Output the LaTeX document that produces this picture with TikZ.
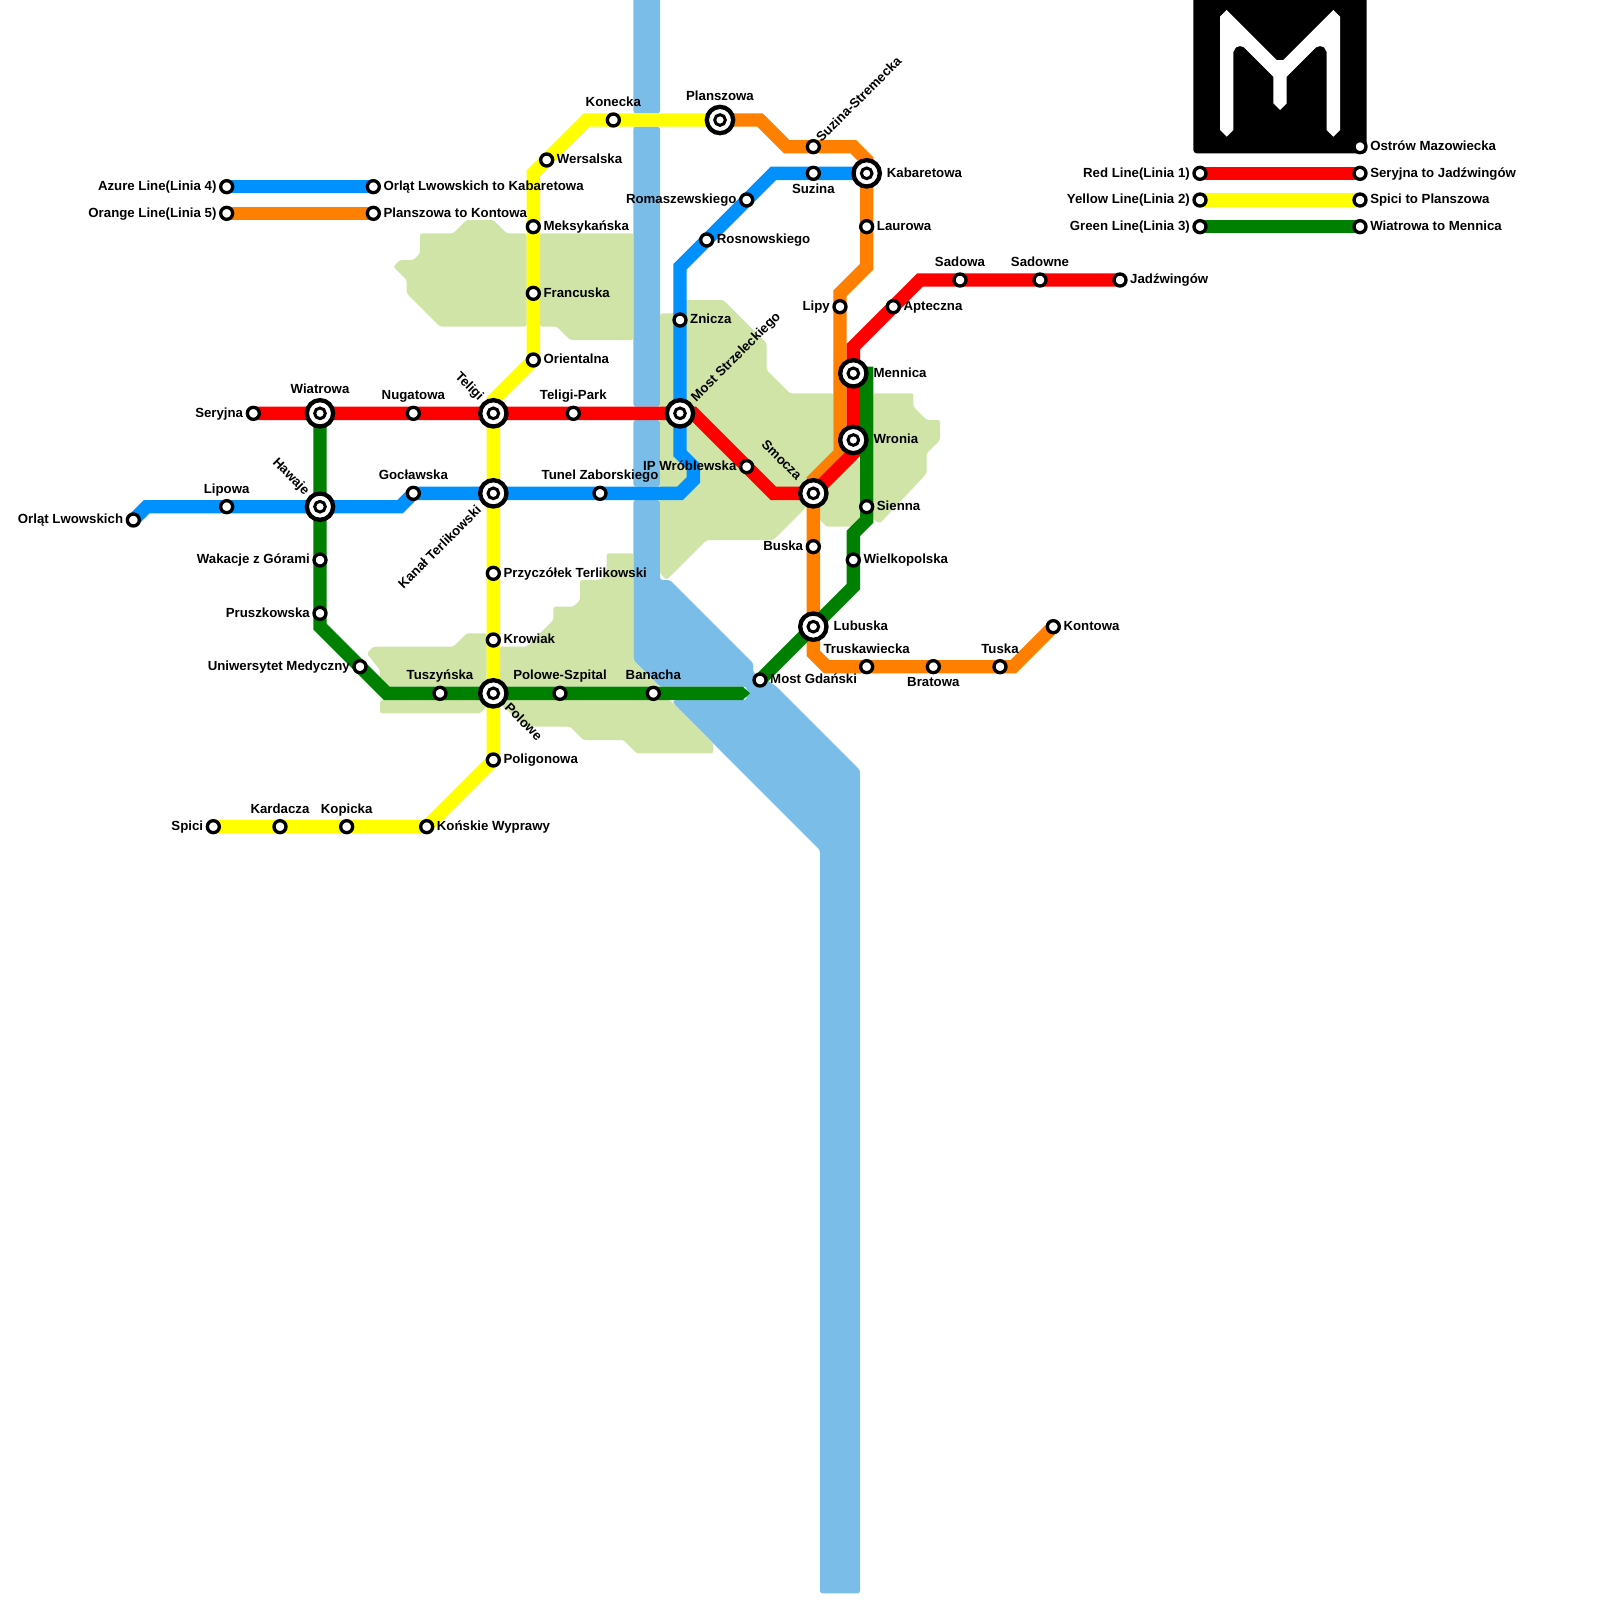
\documentclass[tikz,border=0pt]{standalone}
\usepackage{fontspec}
\setmainfont{Liberation Sans}
\definecolor{LineRed}{RGB}{255,0,0}
\definecolor{LineYellow}{RGB}{255,255,0}
\definecolor{LineGreen}{RGB}{0,128,0}
\definecolor{LineAzure}{RGB}{0,145,255}
\definecolor{LineOrange}{RGB}{255,128,0}
\definecolor{WaterBlue}{RGB}{122,189,232}
\definecolor{ParkGreen}{RGB}{208,228,168}
\usetikzlibrary{positioning, backgrounds}
\tikzset{
  stn/.style={circle, draw=black, fill=white, line width=1mm, inner sep=0pt, minimum size=3.6mm},
  hubcore/.style={circle, draw=black, fill=white, line width=0.9mm, inner sep=0pt, outer sep=0pt, minimum size=3.2mm},
  hub/.style={circle, draw=black, fill=white, line width=1.3mm, inner sep=0pt, minimum size=7.9mm,
    label={[hubcore, label distance=0pt]center:}},
  lbl/.style={inner sep=0pt, yshift=-0.25mm, text height=0.72em, text depth=0.2em, text=black,
    font=\fontsize{11.3}{13}\selectfont\bfseries},
  metro/.style={line width=4mm},
  water/.style={fill=WaterBlue, rounded corners=0.8mm},
  park/.style={fill=ParkGreen, rounded corners=0.7mm}
}

\begin{document}
\begin{tikzpicture}[x=0.4cm, y=-0.4cm]
  \useasboundingbox (0,0) rectangle (120,120);

  \fill[black] (89.5,0) {[rounded corners=1mm] -- (89.5,11.5) -- (102.5,11.5)} -- (102.5,0) -- cycle;
  \fill[white] (92,0.75) -- (95.75,4.5) -- (96.25,4.5) -- (100,0.75) -- (100.5,1.25) -- (100.5,9.75)
    -- (100,10.25) -- (99.5,9.75) -- (99.5,3.9) -- (99.3,3.55) -- (99,3.45) -- (98.7,3.55) -- (96.5,5.75)
    -- (96.5,7.75) -- (96,8.25) -- (95.5,7.75) -- (95.5,5.75) -- (93.3,3.55) -- (93,3.45) -- (92.7,3.55)
    -- (92.5,3.9) -- (92.5,9.75) -- (92,10.25) -- (91.5,9.75) -- (91.5,1.25) -- cycle;

  \node[stn] (seryjna) at (19,31) {}; \node[lbl, left=0.7mm of seryjna] (seryjnaT) {Seryjna};
  \node[hub] (wiatrowa) at (24,31) {}; \node[lbl, above=0.75mm of wiatrowa] (wiatrowaT) {Wiatrowa};
  \node[stn] (nugatowa) at (31,31) {}; \node[lbl, above=1.2mm of nugatowa] (nugatowaT) {Nugatowa};
  \node[hub] (teligi) at (37,31) {}; \node[lbl, rotate=-45, anchor=east] (teligiT) at ([shift={(-0.95,-1.12)}]teligi.center) {Teligi};
  \node[stn] (teligipark) at (43,31) {}; \node[lbl, above=1.2mm of teligipark] (teligiparkT) {Teligi-Park};
  \node[hub] (most) at (51,31) {}; \node[lbl, rotate=45, anchor=west] (mostT) at ([shift={(1.05,-1.05)}]most.center) {Most Strzeleckiego};
  \node[stn] (wroblewska) at (56,35) {}; \node[lbl, left=0.7mm of wroblewska] (wroblewskaT) {IP Wróblewska};
  \node[hub] (smocza) at (61,37) {}; \node[lbl, rotate=-45, anchor=east] (smoczaT) at ([shift={(-1.1,-1.15)}]smocza.center) {Smocza};
  \node[hub] (wronia) at (64,33) {}; \node[lbl, right=1.4mm of wronia] (wroniaT) {Wronia};
  \node[hub] (mennica) at (64,28) {}; \node[lbl, right=1.4mm of mennica] (mennicaT) {Mennica};
  \node[stn] (apteczna) at (67,23) {}; \node[lbl, right=0.7mm of apteczna] (aptecznaT) {Apteczna};
  \node[stn] (sadowa) at (72,21) {}; \node[lbl, above=1.2mm of sadowa] (sadowaT) {Sadowa};
  \node[stn] (sadowne) at (78,21) {}; \node[lbl, above=1.2mm of sadowne] (sadowneT) {Sadowne};
  \node[stn] (jadzwingow) at (84,21) {}; \node[lbl, right=0.7mm of jadzwingow] (jadzwingowT) {Jadźwingów};

  \node[stn] (spici) at (16,62) {}; \node[lbl, left=0.7mm of spici] (spiciT) {Spici};
  \node[stn] (kardacza) at (21,62) {}; \node[lbl, above=1.2mm of kardacza] (kardaczaT) {Kardacza};
  \node[stn] (kopicka) at (26,62) {}; \node[lbl, above=1.2mm of kopicka] (kopickaT) {Kopicka};
  \node[stn] (konskie) at (32,62) {}; \node[lbl, right=0.7mm of konskie] (konskieT) {Końskie Wyprawy};
  \node[stn] (poligonowa) at (37,57) {}; \node[lbl, right=0.7mm of poligonowa] (poligonowaT) {Poligonowa};
  \node[hub] (polowe) at (37,52) {}; \node[lbl, rotate=-45, anchor=west] (poloweT) at ([shift={(0.95,0.9)}]polowe.center) {Polowe};
  \node[stn] (krowiak) at (37,48) {}; \node[lbl, right=0.7mm of krowiak] (krowiakT) {Krowiak};
  \node[stn] (przyczolek) at (37,43) {}; \node[lbl, right=0.7mm of przyczolek] (przyczolekT) {Przyczółek Terlikowski};
  \node[hub] (kanal) at (37,37) {}; \node[lbl, rotate=45, anchor=east] (kanalT) at ([shift={(-1,1.1)}]kanal.center) {Kanał Terlikowski};
  \node[stn] (orientalna) at (40,27) {}; \node[lbl, right=0.7mm of orientalna] (orientalnaT) {Orientalna};
  \node[stn] (francuska) at (40,22) {}; \node[lbl, right=0.7mm of francuska] (francuskaT) {Francuska};
  \node[stn] (meksykanska) at (40,17) {}; \node[lbl, right=0.7mm of meksykanska] (meksykanskaT) {Meksykańska};
  \node[stn] (wersalska) at (41,12) {}; \node[lbl, right=0.7mm of wersalska] (wersalskaT) {Wersalska};
  \node[stn] (konecka) at (46,9) {}; \node[lbl, above=1.2mm of konecka] (koneckaT) {Konecka};
  \node[hub] (planszowa) at (54,9) {}; \node[lbl, above=0.75mm of planszowa] (planszowaT) {Planszowa};

  \node[hub] (hawaje) at (24,38) {}; \node[lbl, rotate=-45, anchor=east] (hawajeT) at ([shift={(-1,-1.05)}]hawaje.center) {Hawaje};
  \node[stn] (wakacje) at (24,42) {}; \node[lbl, left=0.7mm of wakacje] (wakacjeT) {Wakacje z Górami};
  \node[stn] (pruszkowska) at (24,46) {}; \node[lbl, left=0.7mm of pruszkowska] (pruszkowskaT) {Pruszkowska};
  \node[stn] (uniwersytet) at (27,50) {}; \node[lbl, left=0.7mm of uniwersytet] (uniwersytetT) {Uniwersytet Medyczny};
  \node[stn] (tuszynska) at (33,52) {}; \node[lbl, above=1.2mm of tuszynska] (tuszynskaT) {Tuszyńska};
  \node[stn] (szpital) at (42,52) {}; \node[lbl, above=1.2mm of szpital] (szpitalT) {Polowe-Szpital};
  \node[stn] (banacha) at (49,52) {}; \node[lbl, above=1.2mm of banacha] (banachaT) {Banacha};
  \node[stn] (gdanski) at (57,51) {}; \node[lbl, right=0.7mm of gdanski] (gdanskiT) {Most Gdański};
  \node[hub] (lubuska) at (61,47) {}; \node[lbl, right=1.4mm of lubuska] (lubuskaT) {Lubuska};
  \node[stn] (wielkopolska) at (64,42) {}; \node[lbl, right=0.7mm of wielkopolska] (wielkopolskaT) {Wielkopolska};
  \node[stn] (sienna) at (65,38) {}; \node[lbl, right=0.7mm of sienna] (siennaT) {Sienna};

  \node[stn] (orlat) at (10,39) {}; \node[lbl, left=0.7mm of orlat] (orlatT) {Orląt Lwowskich};
  \node[stn] (lipowa) at (17,38) {}; \node[lbl, above=1.2mm of lipowa] (lipowaT) {Lipowa};
  \node[stn] (goclawska) at (31,37) {}; \node[lbl, above=1.2mm of goclawska] (goclawskaT) {Gocławska};
  \node[stn] (tunel) at (45,37) {}; \node[lbl, above=1.2mm of tunel] (tunelT) {Tunel Zaborskiego};
  \node[stn] (znicza) at (51,24) {}; \node[lbl, right=0.7mm of znicza] (zniczaT) {Znicza};
  \node[stn] (rosnowskiego) at (53,18) {}; \node[lbl, right=0.7mm of rosnowskiego] (rosnowskiegoT) {Rosnowskiego};
  \node[stn] (romaszewskiego) at (56,15) {}; \node[lbl, left=0.7mm of romaszewskiego] (romaszewskiegoT) {Romaszewskiego};
  \node[stn] (suzina) at (61,13) {}; \node[lbl, below=0.8mm of suzina] (suzinaT) {Suzina};
  \node[hub] (kabaretowa) at (65,13) {}; \node[lbl, right=1.4mm of kabaretowa] (kabaretowaT) {Kabaretowa};

  \node[stn] (stremecka) at (61,11) {}; \node[lbl, rotate=45, anchor=west] (stremeckaT) at ([shift={(0.45,-0.5)}]stremecka.center) {Suzina-Stremecka};
  \node[stn] (laurowa) at (65,17) {}; \node[lbl, right=0.7mm of laurowa] (laurowaT) {Laurowa};
  \node[stn] (lipy) at (63,23) {}; \node[lbl, left=0.7mm of lipy] (lipyT) {Lipy};
  \node[stn] (buska) at (61,41) {}; \node[lbl, left=0.7mm of buska] (buskaT) {Buska};
  \node[stn] (truskawiecka) at (65,50) {}; \node[lbl, above=1.2mm of truskawiecka] (truskawieckaT) {Truskawiecka};
  \node[stn] (bratowa) at (70,50) {}; \node[lbl, below=0.8mm of bratowa] (bratowaT) {Bratowa};
  \node[stn] (tuska) at (75,50) {}; \node[lbl, above=1.2mm of tuska] (tuskaT) {Tuska};
  \node[stn] (kontowa) at (79,47) {}; \node[lbl, right=0.7mm of kontowa] (kontowaT) {Kontowa};

  \node[stn] (keyAzureA) at (17,14) {}; \node[lbl, left=0.7mm of keyAzureA] (keyAzureT) {Azure Line(Linia 4)};
  \node[stn] (keyAzureB) at (28,14) {}; \node[lbl, right=0.7mm of keyAzureB] (keyAzureU) {Orląt Lwowskich to Kabaretowa};
  \node[stn] (keyOrangeA) at (17,16) {}; \node[lbl, left=0.7mm of keyOrangeA] (keyOrangeT) {Orange Line(Linia 5)};
  \node[stn] (keyOrangeB) at (28,16) {}; \node[lbl, right=0.7mm of keyOrangeB] (keyOrangeU) {Planszowa to Kontowa};
  \node[stn] (ostrow) at (102,11) {}; \node[lbl, right=0.7mm of ostrow] (ostrowT) {Ostrów Mazowiecka};
  \node[stn] (keyRedA) at (90,13) {}; \node[lbl, left=0.7mm of keyRedA] (keyRedT) {Red Line(Linia 1)};
  \node[stn] (keyRedB) at (102,13) {}; \node[lbl, right=0.7mm of keyRedB] (keyRedU) {Seryjna to Jadźwingów};
  \node[stn] (keyYellowA) at (90,15) {}; \node[lbl, left=0.7mm of keyYellowA] (keyYellowT) {Yellow Line(Linia 2)};
  \node[stn] (keyYellowB) at (102,15) {}; \node[lbl, right=0.7mm of keyYellowB] (keyYellowU) {Spici to Planszowa};
  \node[stn] (keyGreenA) at (90,17) {}; \node[lbl, left=0.7mm of keyGreenA] (keyGreenT) {Green Line(Linia 3)};
  \node[stn] (keyGreenB) at (102,17) {}; \node[lbl, right=0.7mm of keyGreenB] (keyGreenU) {Wiatrowa to Mennica};

  \begin{scope}[on background layer]
    \fill[water] (47.5,-0.5) rectangle (49.5,8.5);
    \fill[water] (47.5,9.5) rectangle (49.5,30.5);
    \fill[water] (47.5,31.5) rectangle (49.5,36.5);
    \fill[water] (47.5,37.5) -- (49.5,37.5) -- (49.5,43.5) -- (50.25,43.5) -- (56.5,49.75) -- (56.5,50.5)
      -- (57.5,51) -- (58.25,51.5) -- (64.5,57.75) -- (64.5,119.5) -- (61.5,119.5) -- (61.5,63.75)
      -- (50.5,52.75) -- (50.5,52.5) -- (56,52.5) -- (56,51.5) -- (49.5,51.5) -- (47.5,49.5) -- cycle;

    \fill[park] (29.5,20) -- (30,19.5) -- (31,19.5) -- (31.5,19) -- (31.5,17.5) -- (34,17.5) -- (35,16.5)
      -- (37,16.5) -- (38,17.5) -- (39.5,17.5) -- (39.5,24.5) -- (33,24.5) -- (30.5,22) -- (30.5,21) -- cycle;
    \fill[park] (40.5,17.5) -- (47.5,17.5) -- (47.5,25.5) -- (42.75,25.5) -- (41.75,24.5) -- (40.5,24.5) -- cycle;
    \fill[park] (49.5,23.5) -- (50.5,23.5) -- (51.5,22.5) -- (54.25,22.5) -- (57.5,25.75) -- (57.5,27.75)
      -- (59.25,29.5) -- (62.5,29.5) -- (62.5,34) -- (60.5,36) -- (60.5,38) -- (58,40.5) -- (53,40.5)
      -- (50,43.5) -- (49.5,43) -- cycle;
    \fill[park] (65.5,29.5) -- (68.5,29.5) -- (68.5,30.5) -- (69.5,31.5) -- (70.5,31.5) -- (70.5,33)
      -- (69.5,34) -- (69.5,35.5) -- (66,39.25) -- (65.5,39) -- cycle;
    \fill[park] (64.5,34.5) -- (64.5,39) -- (64,39.5) -- (62,39.5) -- (61.5,39) -- (61.5,37) -- (64,34.5) -- cycle;
    \fill[park] (27.5,49) -- (28,48.5) -- (34,48.5) -- (35,47.5) -- (36.5,47.5) -- (36.5,51.5) -- (28.5,51.5)
      -- (28.5,50.25) -- cycle;
    \fill[park] (28.5,52.5) -- (36.5,52.5) -- (36.5,53) -- (36,53.5) -- (28.5,53.5) -- cycle;
    \fill[park] (37.5,48.5) -- (39.5,48.5) -- (41.5,46.5) -- (41.5,45.5) -- (43,45.5) -- (43.5,45) -- (43.5,43.5)
      -- (45,43.5) -- (45.5,43) -- (45.5,41.5) -- (47.5,41.5) -- (47.5,49.5) -- (49.5,51.5) -- (37.5,51.5) -- cycle;
    \fill[park] (37.5,52.5) -- (37.6,52.9) -- (39.5,54.5) -- (42.75,54.5) -- (43.75,55.5)
      -- (46.75,55.5) -- (47.75,56.5) -- (53.5,56.5) -- (53.5,55.75) -- (50.25,52.5) -- cycle;

    \draw[metro, LineAzure] (orlat.center) -- (11,38) -- (lipowa.center) -- (hawaje.center) -- (30,38)
      -- (goclawska.center) -- (kanal.center) -- (tunel.center) -- (51,37) -- (52,36) -- (52,35) -- (51,34)
      -- (most.center) -- (znicza.center) -- (51,20) -- (rosnowskiego.center) -- (romaszewskiego.center)
      -- (58,13) -- (suzina.center) -- (kabaretowa.center);
    \draw[metro, LineOrange] (planszowa.center) -- (57,9) -- (59,11) -- (stremecka.center) -- (64,11) -- (65,12)
      -- (kabaretowa.center) -- (laurowa.center) -- (65,20) -- (63,22) -- (lipy.center) -- (63,34) -- (61,36)
      -- (smocza.center) -- (buska.center) -- (lubuska.center) -- (61,49) -- (62,50) -- (truskawiecka.center)
      -- (bratowa.center) -- (tuska.center) -- (76,50) -- (kontowa.center);
    \draw[metro, LineYellow] (spici.center) -- (kardacza.center) -- (kopicka.center) -- (konskie.center)
      -- (poligonowa.center) -- (polowe.center) -- (krowiak.center) -- (przyczolek.center) -- (kanal.center)
      -- (teligi.center) -- (37,30) -- (orientalna.center) -- (francuska.center) -- (meksykanska.center)
      -- (40,13) -- (wersalska.center) -- (44,9) -- (konecka.center) -- (planszowa.center);
    \draw[metro, LineRed] (seryjna.center) -- (wiatrowa.center) -- (nugatowa.center) -- (teligi.center)
      -- (teligipark.center) -- (most.center) -- (52,31) -- (wroblewska.center) -- (58,37) -- (smocza.center)
      -- (64,34) -- (wronia.center) -- (mennica.center) -- (64,26) -- (apteczna.center) -- (69,21)
      -- (sadowa.center) -- (sadowne.center) -- (jadzwingow.center);
    \draw[metro, LineGreen] (wiatrowa.center) -- (hawaje.center) -- (wakacje.center) -- (pruszkowska.center)
      -- (24,47) -- (uniwersytet.center) -- (29,52) -- (tuszynska.center) -- (polowe.center) -- (szpital.center)
      -- (banacha.center) -- (55.75,52);
    \fill[LineGreen] (55.7,51.5) -- (56.25,52) -- (55.7,52.5) -- cycle;
    \draw[metro, LineGreen] (gdanski.center) -- (lubuska.center) -- (64,44) -- (wielkopolska.center) -- (64,40)
      -- (65,39) -- (sienna.center) -- (65,27.5);

    \draw[metro, LineAzure] (keyAzureA.center) -- (keyAzureB.center);
    \draw[metro, LineOrange] (keyOrangeA.center) -- (keyOrangeB.center);
    \draw[metro, LineRed] (keyRedA.center) -- (keyRedB.center);
    \draw[metro, LineYellow] (keyYellowA.center) -- (keyYellowB.center);
    \draw[metro, LineGreen] (keyGreenA.center) -- (keyGreenB.center);
  \end{scope}
\end{tikzpicture}
\end{document}
